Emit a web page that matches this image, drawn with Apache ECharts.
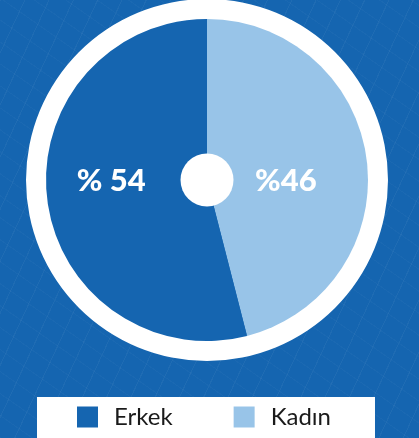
<!DOCTYPE html>
<html lang="tr">
<head>
<meta charset="UTF-8">
<title>Erkek / Kadın</title>
<script src="https://cdn.jsdelivr.net/npm/echarts@6/dist/echarts.min.js"></script>
<style>
  html, body { margin: 0; padding: 0; }
  body {
    width: 419px; height: 438px; overflow: hidden;
    background-color: #1565b0;
    background-image:
      repeating-linear-gradient(115deg, rgba(255,255,255,0.045) 0 1px, transparent 1px 22px),
      repeating-linear-gradient(35deg, rgba(255,255,255,0.025) 0 1px, transparent 1px 18px);
  }
  #main { width: 419px; height: 438px; }
</style>
</head>
<body>
<div id="main"></div>
<script>
// data
var categories = ['Erkek', 'Kadın'];
var values = [54, 46];
var labels = ['% 54', '%46'];
var colors = ['#1565b0', '#98c4e8'];

var chart = echarts.init(document.getElementById('main'));

// label nudges so the text sits level with the centre dot
var labelOffsets = [[-13, -9], [-4, 11]];

var pieData = categories.map(function (name, i) {
  return {
    name: name,
    value: values[i],
    itemStyle: { color: colors[i] },
    label: { formatter: labels[i], offset: labelOffsets[i] }
  };
});
// ECharts draws clockwise from startAngle; put Kadın first so it begins at 12 o'clock
var ordered = [pieData[1], pieData[0]];

var option = {
  backgroundColor: 'transparent',
  animation: false,
  legend: {
    data: categories,
    left: 37,
    top: 397,
    backgroundColor: '#ffffff',
    padding: [8, 44, 9, 40],
    icon: 'rect',
    itemWidth: 21,
    itemHeight: 21,
    itemGap: 61,
    selectedMode: false,
    textStyle: {
      color: '#1a1a1a',
      fontSize: 24,
      fontFamily: 'Lato',
      padding: [0, 0, 0, 11]
    }
  },
  series: [
    {
      // outer white ring
      type: 'pie',
      silent: true,
      center: [207, 180],
      radius: [160, 181],
      label: { show: false },
      labelLine: { show: false },
      itemStyle: { color: '#ffffff' },
      data: [{ value: 1, name: 'ring' }]
    },
    {
      type: 'pie',
      center: [207, 180],
      radius: [0, 161],
      startAngle: 90,
      clockwise: true,
      legendHoverLink: false,
      label: {
        show: true,
        position: 'inside',
        color: '#ffffff',
        fontSize: 31,
        fontWeight: 900,
        fontFamily: 'Lato'
      },
      labelLine: { show: false },
      data: ordered
    },
    {
      // white dot in the middle
      type: 'pie',
      silent: true,
      center: [207, 180],
      radius: [0, 26.5],
      label: { show: false },
      labelLine: { show: false },
      itemStyle: { color: '#ffffff' },
      data: [{ value: 1, name: 'dot' }]
    }
  ]
};

chart.setOption(option);
</script>
</body>
</html>
